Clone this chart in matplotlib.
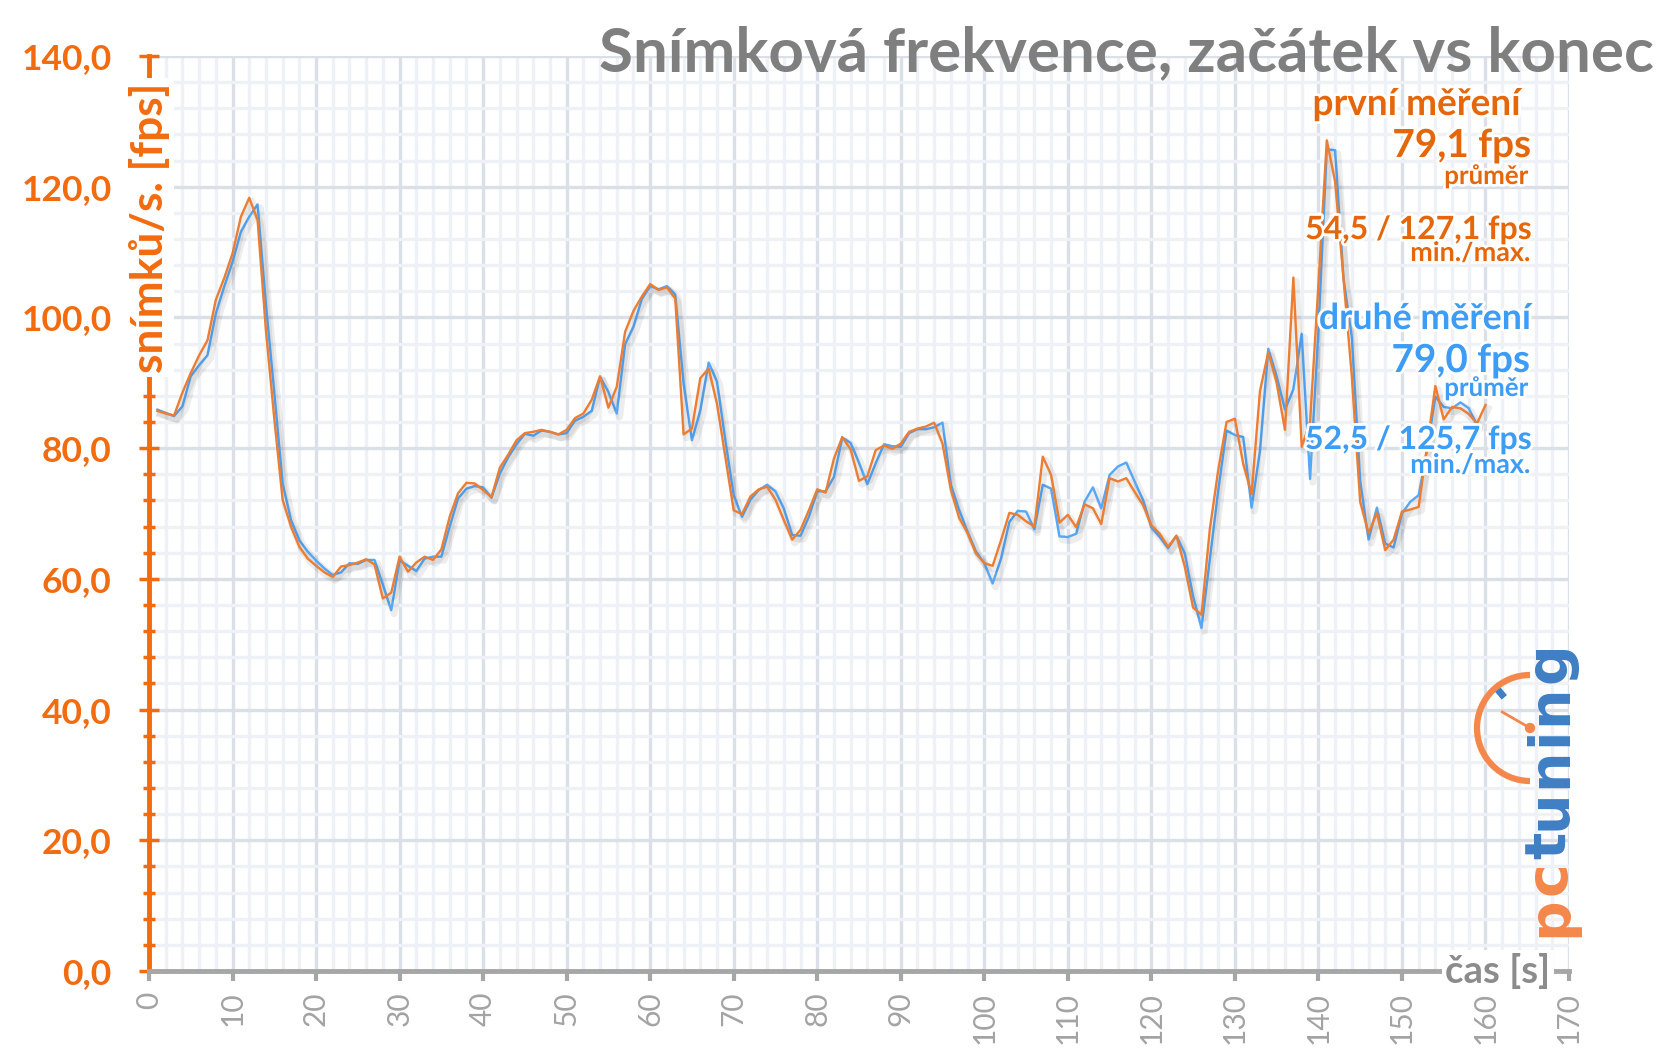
# Frame rate chart: first vs second measurement

import matplotlib.pyplot as plt
import matplotlib.patheffects as pe
from matplotlib.patches import Arc, Circle
from matplotlib.ticker import MultipleLocator, FuncFormatter
import numpy as np

plt.rcParams["font.family"] = ["Lato", "DejaVu Sans"]
plt.rcParams["font.weight"] = "bold"

# DATA (fps per second of the run)
first_fps = [
    85.7, 85.3, 85.0, 88.5, 91.5, 94.2, 96.5, 102.7, 106.0, 109.8,
    115.4, 118.3, 114.9, 98.0, 84.5, 72.1, 68.0, 64.9, 63.1, 62.0,
    61.0, 60.3, 61.9, 62.1, 62.5, 63.0, 62.2, 57.0, 57.9, 63.4,
    61.1, 62.5, 63.4, 62.9, 64.5, 69.5, 73.1, 74.7, 74.6, 73.6,
    72.5, 77.0, 79.0, 81.2, 82.3, 82.5, 82.8, 82.5, 82.1, 82.8,
    84.6, 85.3, 87.4, 91.0, 86.2, 89.4, 97.8, 101.0, 103.2, 105.1,
    104.2, 104.6, 102.9, 82.1, 83.0, 90.7, 92.2, 86.8, 78.7, 70.5,
    69.9, 72.6, 73.7, 74.1, 72.1, 69.0, 66.0, 67.5, 70.5, 73.7,
    73.2, 78.4, 81.7, 79.8, 75.0, 75.7, 79.7, 80.4, 79.9, 80.7,
    82.5, 83.0, 83.3, 83.9, 80.7, 73.6, 69.3, 67.0, 63.9, 62.4,
    62.0, 65.9, 70.1, 69.8, 68.8, 68.0, 78.7, 75.9, 68.6, 69.8,
    67.9, 71.4, 70.8, 68.4, 75.4, 74.9, 75.4, 73.3, 71.3, 68.2,
    66.9, 64.9, 66.6, 61.9, 55.6, 54.5, 67.6, 76.6, 84.0, 84.5,
    77.6, 73.0, 88.7, 94.7, 90.0, 82.8, 106.1, 80.2, 84.0, 105.0,
    127.1, 120.8, 106.0, 91.0, 71.8, 67.0, 70.1, 64.4, 66.0, 70.3,
    70.6, 71.0, 80.2, 89.5, 84.4, 86.3, 86.1, 85.2, 83.8, 86.6,
]
second_fps = [
    85.9, 85.4, 84.9, 86.4, 91.0, 92.7, 94.2, 100.6, 104.7, 108.5,
    113.1, 115.4, 117.3, 102.0, 88.5, 74.6, 69.0, 65.9, 64.2, 62.8,
    61.6, 60.6, 61.0, 62.4, 62.3, 62.9, 62.9, 59.1, 55.2, 62.8,
    62.0, 61.2, 63.1, 63.4, 63.4, 68.0, 72.3, 73.8, 74.2, 74.0,
    72.4, 76.1, 78.6, 80.6, 82.2, 81.9, 82.7, 82.5, 82.1, 82.3,
    84.2, 84.8, 85.7, 90.9, 88.6, 85.3, 95.9, 98.6, 102.8, 104.8,
    104.3, 104.8, 103.5, 89.9, 81.2, 85.8, 93.1, 90.2, 81.2, 72.8,
    69.5, 72.1, 73.6, 74.4, 73.4, 70.8, 66.7, 66.6, 69.5, 73.4,
    73.4, 75.6, 81.6, 80.8, 77.8, 74.5, 77.7, 80.6, 80.3, 80.2,
    82.3, 82.9, 82.9, 83.2, 83.9, 74.4, 70.5, 67.2, 64.2, 62.4,
    59.3, 63.1, 68.7, 70.4, 70.3, 67.6, 74.4, 73.8, 66.5, 66.4,
    66.9, 71.8, 74.0, 70.8, 75.9, 77.2, 77.8, 74.9, 72.1, 67.9,
    66.4, 64.7, 66.6, 63.9, 57.3, 52.5, 63.0, 73.5, 82.7, 82.0,
    81.7, 70.9, 79.6, 95.2, 91.0, 85.9, 89.0, 97.5, 75.3, 98.0,
    125.7, 125.6, 106.0, 97.0, 75.0, 66.0, 70.9, 65.4, 64.8, 70.0,
    71.8, 72.8, 79.7, 87.9, 86.3, 86.1, 87.0, 86.1, 83.5,
]
first_time = np.arange(1, len(first_fps) + 1)
second_time = np.arange(1, len(second_fps) + 1)

title = "Snímková frekvence, začátek vs konec"
first_texts = ["první měření", "79,1 fps", "průměr", "54,5 / 127,1 fps", "min./max."]
second_texts = ["druhé měření", "79,0 fps", "průměr", "52,5 / 125,7 fps", "min./max."]

# COLOURS
ORANGE = "#ED7D31"
BLUE = "#55A7F7"
AXIS_OR = "#F26B0F"
TXT_OR = "#E5670C"
TXT_BL = "#3D9CF5"
GRAY = "#A6A6A6"
LOGO_OR = "#F4874B"
LOGO_BL = "#3F7FC4"

W, H = 1668, 1058
fig = plt.figure(figsize=(W / 100, H / 100), dpi=100)
renderer = fig.canvas.get_renderer()


def fit(t, width):
    # scale a text object so that it is `width` pixels wide/long
    bb = t.get_window_extent(renderer)
    size = max(bb.width, bb.height) if t.get_rotation() else bb.width
    t.set_fontsize(t.get_fontsize() * width / size)


## MAIN AXIS
ax = fig.add_axes([149 / W, 1 - 971 / H, (1569 - 149) / W, (971 - 56) / H])
shadow = [pe.SimpleLineShadow(offset=(2, -2.5), shadow_color="k", alpha=0.07, linewidth=5), pe.Normal()]
ax.plot(second_time, second_fps, color=BLUE, lw=1.7, path_effects=shadow, zorder=3)
ax.plot(first_time, first_fps, color=ORANGE, lw=1.7, path_effects=shadow, zorder=4)

ax.set_xlim(0, 170)
ax.set_ylim(0, 140)
ax.xaxis.set_major_locator(MultipleLocator(10))
ax.xaxis.set_minor_locator(MultipleLocator(2))
ax.yaxis.set_major_locator(MultipleLocator(20))
ax.yaxis.set_minor_locator(MultipleLocator(4))
ax.grid(which="major", color="#DADFE8", lw=2.4)
ax.grid(which="minor", color="#EEF1F5", lw=2.4)
ax.set_axisbelow(True)

for s in ["top", "right"]:
    ax.spines[s].set_visible(False)
ax.spines["left"].set_color(AXIS_OR)
ax.spines["left"].set_linewidth(3.5)
ax.spines["bottom"].set_color(GRAY)
ax.spines["bottom"].set_linewidth(3.5)

ax.yaxis.set_major_formatter(FuncFormatter(lambda v, p: f"{v:.1f}".replace(".", ",")))
ax.tick_params(axis="y", which="major", direction="inout", length=14, width=2.5,
               color=AXIS_OR, pad=20, labelsize=25.5, labelcolor=AXIS_OR)
ax.tick_params(axis="y", which="minor", direction="inout", length=9, width=2.5, color=AXIS_OR)
ax.tick_params(axis="x", which="major", direction="out", length=7, width=3,
               color=GRAY, pad=8, labelsize=21.5, labelcolor="#A3A3A3", labelrotation=90)
ax.tick_params(axis="x", which="minor", length=0)
for lab in ax.get_yticklabels():
    lab.set_fontweight("bold")
for lab in ax.get_xticklabels():
    lab.set_fontweight("normal")

# axis titles sitting on the axis lines
ylab = ax.text(0, 113.7, "snímků/s. [fps]", rotation=90, ha="center", va="center",
               color=AXIS_OR, fontsize=30, clip_on=False, zorder=6,
               bbox=dict(fc="white", ec="none", pad=3))
fit(ylab, 290)
xlab = ax.text(161.5, 0, "čas [s]", ha="center", va="center", color="#8C8C8C",
               fontsize=26, clip_on=False, zorder=6,
               bbox=dict(fc="white", ec="none", pad=2))
fit(xlab, 105)

## OVERLAY (pixel coordinates) for title, notes and logo
ov = fig.add_axes([0, 0, 1, 1])
ov.set_xlim(0, W)
ov.set_ylim(H, 0)
ov.axis("off")
ov.patch.set_alpha(0)

t = ov.text(1654, 71, title, ha="right", va="baseline", color="#7F7F7F", fontsize=44)
fit(t, 1056)

glow = [pe.withStroke(linewidth=4, foreground="white")]
# (right edge, baseline, width); small captions first so big numbers stay on top
slots_first = [(1521, 115, 208), (1531, 157, 139), (1529, 184, 84), (1532, 239, 227), (1530, 261, 120)]
slots_second = [(1530, 329, 212), (1530, 372, 139), (1529, 396, 84), (1532, 449, 227), (1530, 473, 120)]
for texts, slots, col in [(first_texts, slots_first, TXT_OR), (second_texts, slots_second, TXT_BL)]:
    for k, (s, (x, y, w)) in enumerate(zip(texts, slots)):
        tt = ov.text(x, y, s, ha="right", va="baseline", color=col, fontsize=20,
                     path_effects=glow, zorder=12 if k in (1, 3) else 10)
        fit(tt, w)

## LOGO: "pc" + "tuning" written bottom-to-top, letter by letter with spacing
letters = [(c, LOGO_OR) for c in "pc"] + [(c, LOGO_BL) for c in "tuning"]
objs = []
for c, col in letters:
    objs.append(ov.text(1566, 0, c, rotation=90, rotation_mode="anchor", ha="left",
                        va="baseline", color=col, family="DejaVu Sans",
                        fontsize=41, zorder=8))
lens = [o.get_window_extent(renderer).height for o in objs]
gap = (295 - sum(lens)) / (len(lens) - 1)
y = 937
for o, L in zip(objs, lens):
    o.set_y(y)
    y -= L + gap

cx, cy, r = 1530, 728, 53
ov.add_patch(Arc((cx, cy), 2 * r, 2 * r, theta1=90, theta2=270, color=LOGO_OR, lw=4.5))
a = np.deg2rad(130)
ov.plot([cx + 40 * np.cos(a), cx + 50 * np.cos(a)], [cy - 40 * np.sin(a), cy - 50 * np.sin(a)],
        color=LOGO_BL, lw=5, solid_capstyle="butt")
a = np.deg2rad(150)
ov.plot([cx, cx + 32 * np.cos(a)], [cy, cy - 32 * np.sin(a)], color=LOGO_OR, lw=2)
ov.add_patch(Circle((cx, cy), 4.5, color=LOGO_OR))

plt.savefig("out.png", dpi=100)
